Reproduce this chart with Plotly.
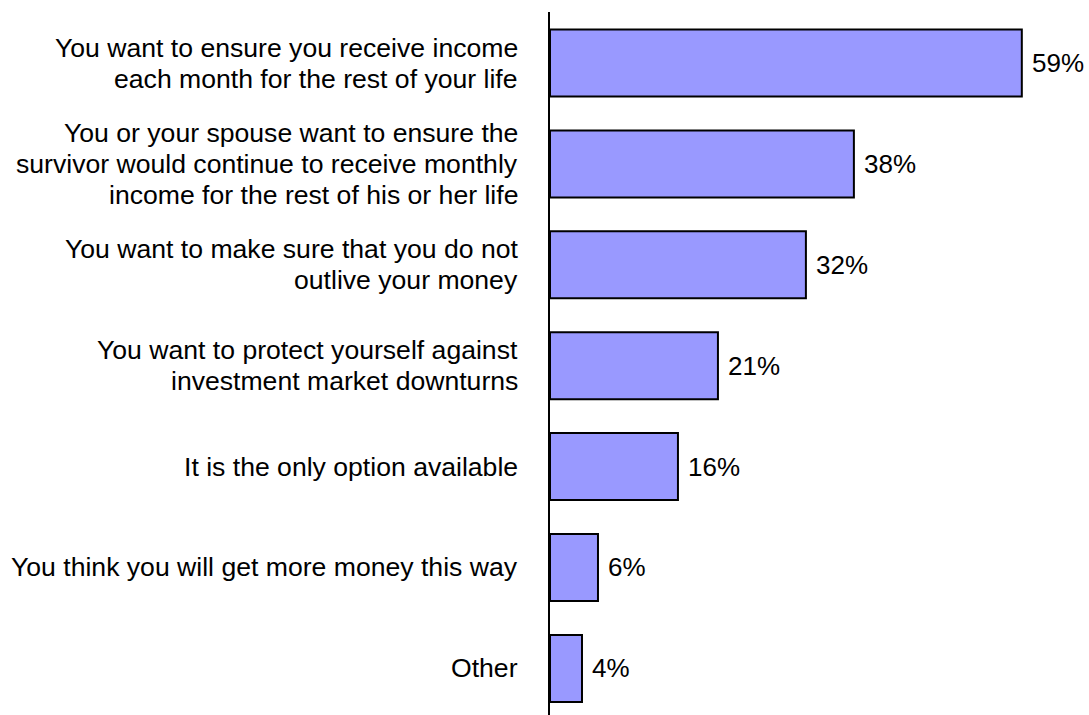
import plotly.graph_objects as go

# Survey reasons, top to bottom, with the share of respondents choosing each
reasons = [
    "You want to ensure you receive income<br>each month for the rest of your life",
    "You or your spouse want to ensure the<br>survivor would continue to receive monthly<br>income for the rest of his or her life",
    "You want to make sure that you do not<br>outlive your money",
    "You want to protect yourself against<br>investment market downturns",
    "It is the only option available",
    "You think you will get more money this way",
    "Other",
]
shares = [59, 38, 32, 21, 16, 6, 4]
value_labels = ["59%", "38%", "32%", "21%", "16%", "6%", "4%"]

FONT = "Liberation Sans, Arial, sans-serif"
LABEL_SIZE = 26.6
VALUE_SIZE = 26
LINE_STEP = 31

positions = list(range(len(reasons)))

fig = go.Figure(
    go.Bar(
        x=shares,
        y=positions,
        orientation="h",
        width=0.664,
        marker=dict(color="#9999FF", line=dict(color="black", width=2)),
        hoverinfo="skip",
    )
)

annotations = []
# Category labels, one annotation per line for tighter line spacing
for pos, label in zip(positions, reasons):
    lines = label.split("<br>")
    n = len(lines)
    for k, line in enumerate(lines):
        annotations.append(dict(
            x=0, xref="paper", y=pos, yref="y",
            xanchor="right", yanchor="middle", xshift=-30,
            yshift=-(k - (n - 1) / 2) * LINE_STEP,
            text=line, showarrow=False, align="right",
            font=dict(family=FONT, size=LABEL_SIZE, color="black"),
        ))

# Value labels at the end of each bar
for pos, val, txt in zip(positions, shares, value_labels):
    annotations.append(dict(
        x=val, xref="x", y=pos, yref="y",
        xanchor="left", yanchor="middle", xshift=8,
        text=txt, showarrow=False,
        font=dict(family=FONT, size=VALUE_SIZE, color="black"),
    ))

fig.update_layout(
    width=1089, height=715,
    margin=dict(l=550, r=0, t=12, b=0),
    paper_bgcolor="white", plot_bgcolor="white",
    showlegend=False,
    annotations=annotations,
    xaxis=dict(range=[0, 67.4], visible=False, fixedrange=True),
    yaxis=dict(
        range=[6.462, -0.5055],
        showticklabels=False, ticks="",
        showgrid=False, zeroline=False,
        showline=True, linecolor="black", linewidth=2,
        fixedrange=True,
    ),
)

fig.write_html("out.html")
